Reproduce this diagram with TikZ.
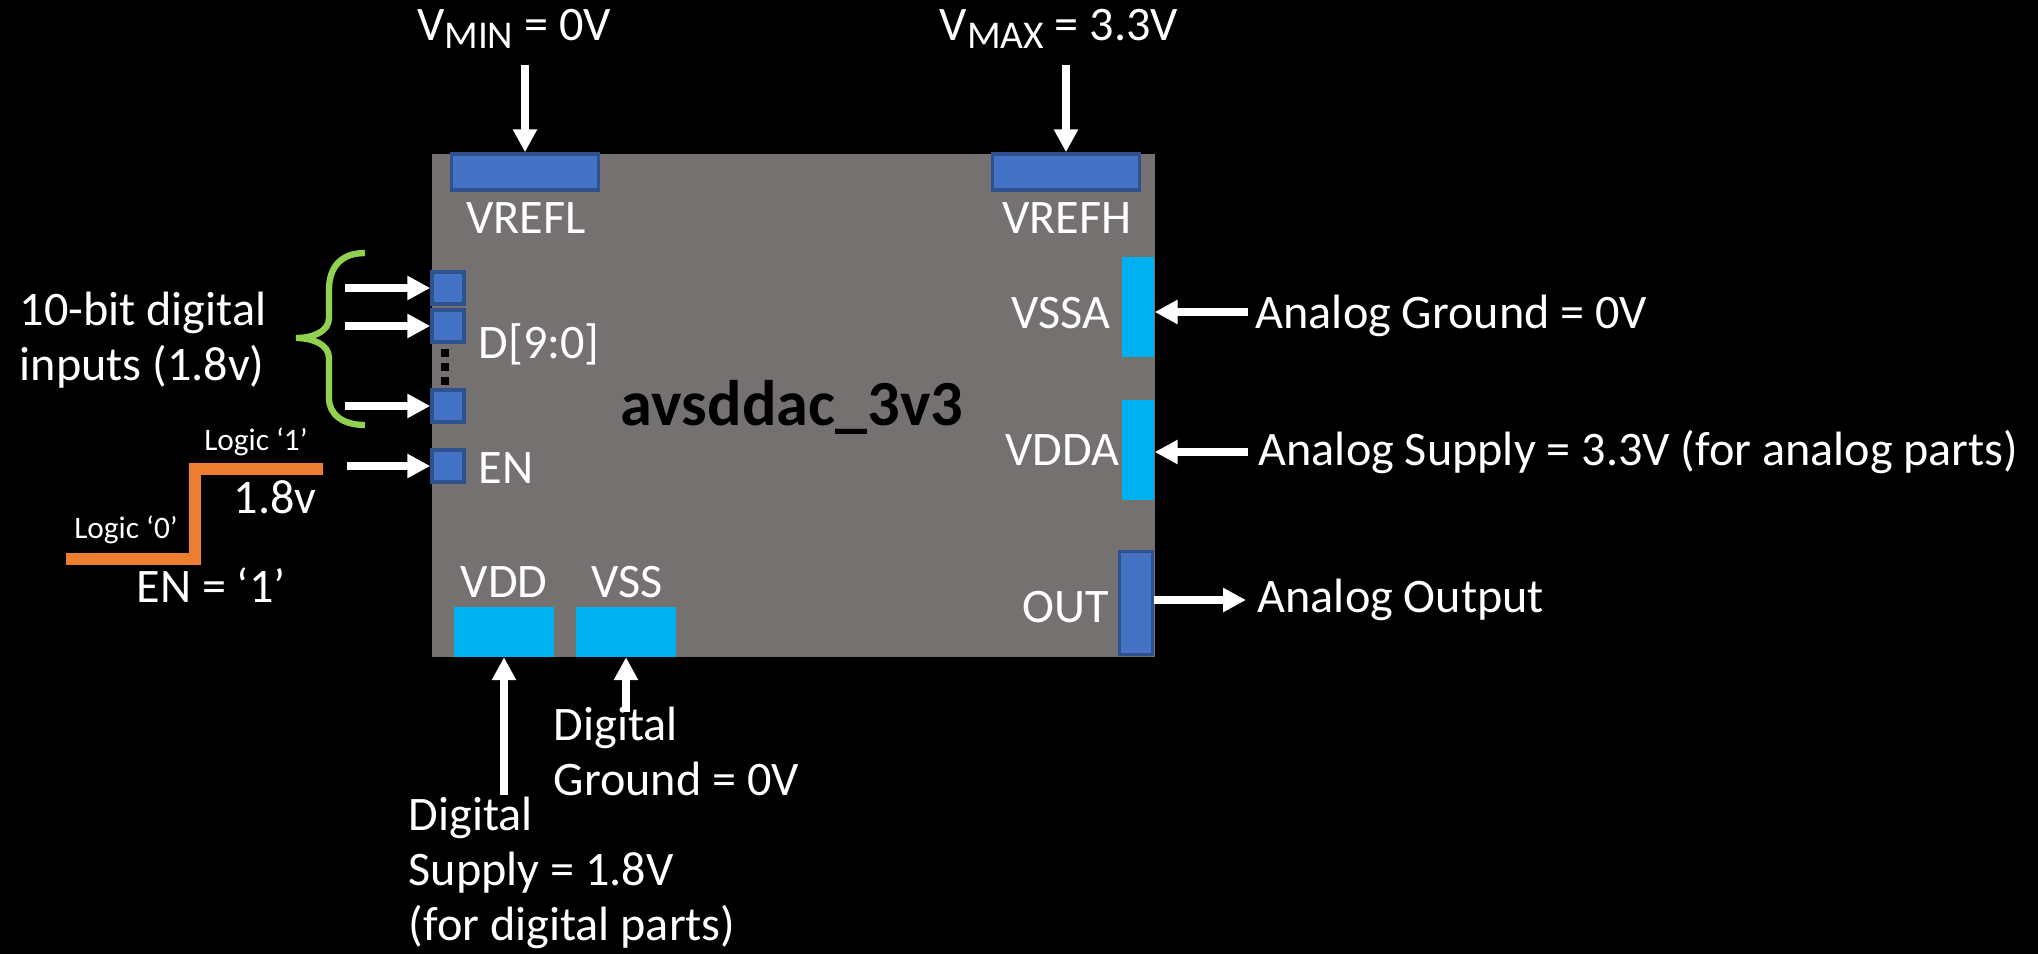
\documentclass[tikz,border=0pt]{standalone}
\usepackage{fontspec}
\setmainfont{Carlito}
\usepackage{xcolor}
\usepackage{tikz}
\usetikzlibrary{
	arrows.meta,
	positioning
}
\definecolor{chipgray}{HTML}{767171}
\definecolor{padblue}{HTML}{4472C4}
\definecolor{padedge}{HTML}{2F528F}
\definecolor{padcyan}{HTML}{00B0F0}
\definecolor{bracegreen}{HTML}{92D050}
\definecolor{enorange}{HTML}{ED7D31}
\newcommand{\lowsub}[1]{\raisebox{-0.35ex}{\fontsize{11.2}{12}\selectfont #1}}

\begin{document}
\begin{tikzpicture}[x=0.01cm, y=-0.01cm,
		lbl/.style={text=white, inner sep=0pt, font=\fontsize{13.7}{15.6}\selectfont},
		small/.style={text=white, inner sep=0pt, font=\fontsize{8.9}{10}\selectfont},
		bluepad/.style={draw=padedge, fill=padblue, line width=1pt, inner sep=0pt},
		cyanpad/.style={fill=padcyan, inner sep=0pt},
		wire/.style={white, line width=2pt, -{Triangle[length=6.5pt,width=6.5pt]}}]
		\fill[black] (0,0) rectangle (2038,954);
		\useasboundingbox (0,0) rectangle (2038,954);
		% the chip
		\node[fill=chipgray, inner sep=0pt, minimum width=7.23cm, minimum height=5.03cm, anchor=north west] (chip) at (431,153) {};
		\node[font=\bfseries\fontsize{18.3}{20}\selectfont, inner sep=0pt, anchor=base] (name) at (792,425) {avsddac\_3v3};
		% pads
		\node[bluepad, minimum width=1.47cm, minimum height=0.36cm] (vrefl) at (525,172) {};
		\node[bluepad, minimum width=1.47cm, minimum height=0.36cm] (vrefh) at (1066,172) {};
		\node[bluepad, minimum size=0.32cm] (d9) at (448,288) {};
		\node[bluepad, minimum size=0.32cm] (d8) at (448,326) {};
		\node[bluepad, minimum size=0.32cm] (d0) at (448,406) {};
		\node[bluepad, minimum size=0.32cm] (en) at (448,466) {};
		\node[cyanpad, minimum width=0.32cm, minimum height=1.00cm] (vssa) at (1138,307) {};
		\node[cyanpad, minimum width=0.32cm, minimum height=1.00cm] (vdda) at (1138,450) {};
		\node[bluepad, minimum width=0.33cm, minimum height=1.03cm] (out) at (1136,603) {};
		\node[cyanpad, minimum width=1.00cm, minimum height=0.49cm] (vdd) at (504,632) {};
		\node[cyanpad, minimum width=1.00cm, minimum height=0.49cm] (vss) at (626,632) {};
		\foreach \y in {353,367,381}
		\fill[black] (441,\y-4) rectangle (449,\y+4);
		% pin names
		\node[lbl, anchor=base] (vrefllbl) at (526,233) {VREFL};
		\node[lbl, anchor=base] (vrefhlbl) at (1067,233) {VREFH};
		\node[lbl, anchor=base west] (dlbl) at (478,358) {D[9:0]};
		\node[lbl, anchor=base west] (enlbl) at (478,483) {EN};
		\node[lbl, anchor=base] (vssalbl) at (1061,328) {VSSA};
		\node[lbl, anchor=base] (vddalbl) at (1062,465) {VDDA};
		\node[lbl, anchor=base] (outlbl) at (1066,622) {OUT};
		\node[lbl, anchor=base] (vddlbl) at (504,597) {VDD};
		\node[lbl, anchor=base] (vsslbl) at (627,597) {VSS};
		% outside labels
		\node[lbl, anchor=base] (vmin) at (514,40) {V\lowsub{MIN} = 0V};
		\node[lbl, anchor=base] (vmax) at (1059,40) {V\lowsub{MAX} = 3.3V};
		\node[lbl, anchor=base west, align=left] (bits) at (19,380) {10-bit digital\\inputs (1.8v)};
		\node[lbl, anchor=base west] (agnd) at (1255,328) {Analog Ground = 0V};
		\node[lbl, anchor=base west] (asup) at (1258,465) {Analog Supply = 3.3V (for analog parts)};
		\node[lbl, anchor=base west] (aout) at (1257,612) {Analog Output};
		\node[lbl, anchor=base west, align=left] (dgnd) at (553,795) {Digital\\Ground = 0V};
		\node[lbl, anchor=base west, align=left] (dsup) at (408,940) {Digital\\Supply = 1.8V\\(for digital parts)};
		\node[small, anchor=base] (logic1) at (256,450) {Logic ‘1’};
		\node[small, anchor=base] (logic0) at (126,538) {Logic ‘0’};
		\node[lbl, anchor=base] (level) at (275,513) {1.8v};
		\node[lbl, anchor=base] (enval) at (211,602) {EN = ‘1’};
		% arrow tails
		\coordinate (vmintail) at (525,65);
		\coordinate (vmaxtail) at (1066,65);
		\coordinate (d9tail) at (345,288);
		\coordinate (d8tail) at (345,326);
		\coordinate (d0tail) at (345,406);
		\coordinate (entail) at (347,466);
		\coordinate (vssatail) at (1248,312);
		\coordinate (vddatail) at (1248,452);
		\coordinate (outtip) at (1246,600);
		\coordinate (vddtail) at (504,795);
		\coordinate (vsstail) at (626,712);
		\draw[wire] (vmintail) -- (vrefl.north);
		\draw[wire] (vmaxtail) -- (vrefh.north);
		\draw[wire] (d9tail) -- (d9.west);
		\draw[wire] (d8tail) -- (d8.west);
		\draw[wire] (d0tail) -- (d0.west);
		\draw[wire] (entail) -- (en.west);
		\draw[wire] (vssatail) -- (vssatail -| vssa.east);
		\draw[wire] (vddatail) -- (vddatail -| vdda.east);
		\draw[wire] (outtip -| out.east) -- (outtip);
		\draw[wire] (vddtail) -- (vdd.south);
		\draw[wire] (vsstail) -- (vss.south);
		% brace and enable step
		\draw[bracegreen, line width=1.8pt] (365,253) .. controls (342,253) and (329,266) .. (329,290) -- (329,318) .. controls (329,332) and (312,338) .. (296,338) .. controls (312,338) and (329,344) .. (329,358) -- (329,398) .. controls (329,414) and (342,425) .. (365,425);
		\draw[enorange, line width=3.4pt] (66,559) -- (195,559) -- (195,469) -- (323,469);
	\end{tikzpicture}
\end{document}
